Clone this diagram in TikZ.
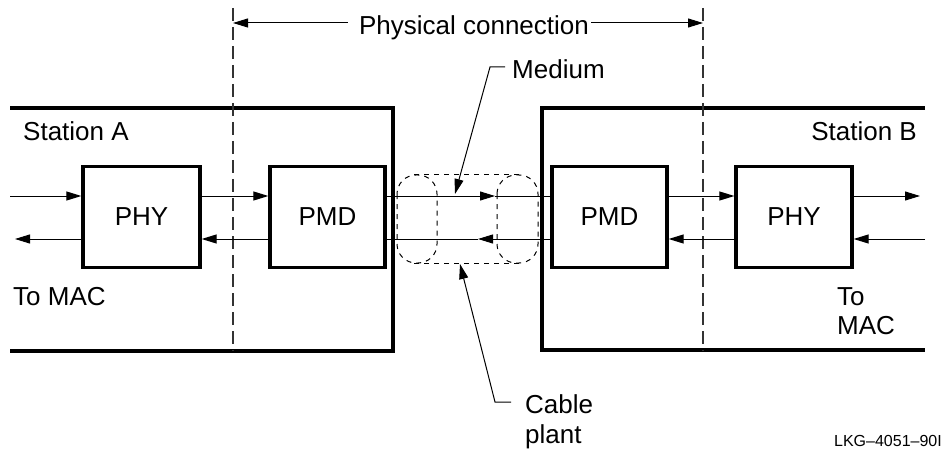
\documentclass[tikz,border=0pt]{standalone}
\usepackage{fontspec}
\setmainfont{Liberation Sans}
\usetikzlibrary{arrows.meta}
\begin{document}
\begin{tikzpicture}[x=1pt,y=-1pt,
  txt/.style={font=\fontsize{26}{30}\selectfont, inner sep=0pt},
  blk/.style={draw, line width=3.3pt, minimum height=101pt, inner sep=0pt,
              font=\fontsize{26}{30}\selectfont},
  frame/.style={line width=3.5pt},
  sig/.style={line width=1pt, -{Triangle[length=15pt,width=9pt]}},
  plain/.style={line width=1pt},
  bound/.style={line width=1.3pt, dash pattern=on 13pt off 6pt, draw=black!80},
  cable/.style={line width=1pt, dash pattern=on 5pt off 5pt, rounded corners=19pt},
  leader/.style={line width=1pt}
]
\useasboundingbox (0,0) rectangle (944,449);

% station frames
\draw[frame] (10,108) -- (393,108) -- (393,351) -- (10,351);
\draw[frame] (925,108) -- (542,108) -- (542,350) -- (925,350);

% boundary dashed lines
\coordinate (bl1) at (233,8);  \coordinate (bl2) at (233,351);
\coordinate (br1) at (703,8);  \coordinate (br2) at (703,351);
\draw[bound] (bl1) -- (bl2);
\draw[bound] (br1) -- (br2);

% blocks
\node[blk, minimum width=117pt] (phyA) at (141.5,217) {PHY};
\node[blk, minimum width=115pt] (pmdA) at (327.5,217) {PMD};
\node[blk, minimum width=115pt] (pmdB) at (609.5,217) {PMD};
\node[blk, minimum width=116pt] (phyB) at (794,217) {PHY};

% cable plant
\draw[cable] (397,175) rectangle (437,263);
\draw[cable] (497,175) rectangle (538,263);
\draw[line width=1pt, dash pattern=on 5pt off 5pt] (414,175) -- (521,175);
\draw[line width=1pt, dash pattern=on 5pt off 5pt] (414,263) -- (521,263);

% signal coordinates
\coordinate (inA) at (10,196);
\coordinate (outA) at (15,239);
\coordinate (outB) at (920,196);
\coordinate (inB) at (925,239);
\coordinate (mu) at (495,196);
\coordinate (ml) at (478,239);

% left station signals
\draw[sig] (inA) -- (phyA.west |- inA);
\draw[sig] (phyA.west |- outA) -- (outA);
\draw[sig] (phyA.east |- inA) -- (pmdA.west |- inA);
\draw[sig] (pmdA.west |- outA) -- (phyA.east |- outA);

% medium
\draw[sig] (pmdA.east |- mu) -- (mu);
\draw[plain] (mu) -- (pmdB.west |- mu);
\draw[sig] (pmdB.west |- ml) -- (ml);
\draw[plain] (ml) -- (pmdA.east |- ml);

% right station signals
\draw[sig] (pmdB.east |- mu) -- (phyB.west |- mu);
\draw[sig] (phyB.west |- ml) -- (pmdB.east |- ml);
\draw[sig] (phyB.east |- mu) -- (outB);
\draw[sig] (inB) -- (phyB.east |- ml);

% physical connection
\node[txt, anchor=base] (phys) at (474,35) {Physical connection};
\coordinate (pcl) at (233,23);
\coordinate (pcr) at (703,23);
\coordinate (pcls) at ([xshift=-11pt]phys.west |- pcl);
\coordinate (pcrs) at ([xshift=2pt]phys.east |- pcr);
\draw[sig] (pcls) -- (pcl);
\draw[sig] (pcrs) -- (pcr);

% labels
\node[txt, anchor=base west] (staA) at (23,141) {Station A};
\node[txt, anchor=base east] (staB) at (917,141) {Station B};
\node[txt, anchor=base west] (macA) at (13,305) {To MAC};
\node[txt, anchor=base west] (macB) at (837,305) {To};
\node[txt, anchor=base west] (macB2) at (837,334) {MAC};

% medium leader
\node[txt, anchor=base west] (med) at (512,79) {Medium};
\coordinate (medA) at (505,67);
\coordinate (medB) at (490,67);
\coordinate (medT) at (455,194);
\draw[leader, -{Triangle[length=15pt,width=9pt]}] (medA) -- (medB) -- (medT);

% cable plant leader
\node[txt, anchor=base west] (cab) at (525,413) {Cable};
\node[txt, anchor=base west] (plt) at (525,443) {plant};
\coordinate (cabA) at (511,402);
\coordinate (cabB) at (495,402);
\coordinate (cabT) at (460,264);
\draw[leader, -{Triangle[length=15pt,width=9pt]}] (cabA) -- (cabB) -- (cabT);

% figure id
\node[anchor=base east, inner sep=0pt, font=\fontsize{16}{18}\selectfont] (fid) at (942,446) {LKG{\char"2013}4051{\char"2013}90I};
\end{tikzpicture}
\end{document}
